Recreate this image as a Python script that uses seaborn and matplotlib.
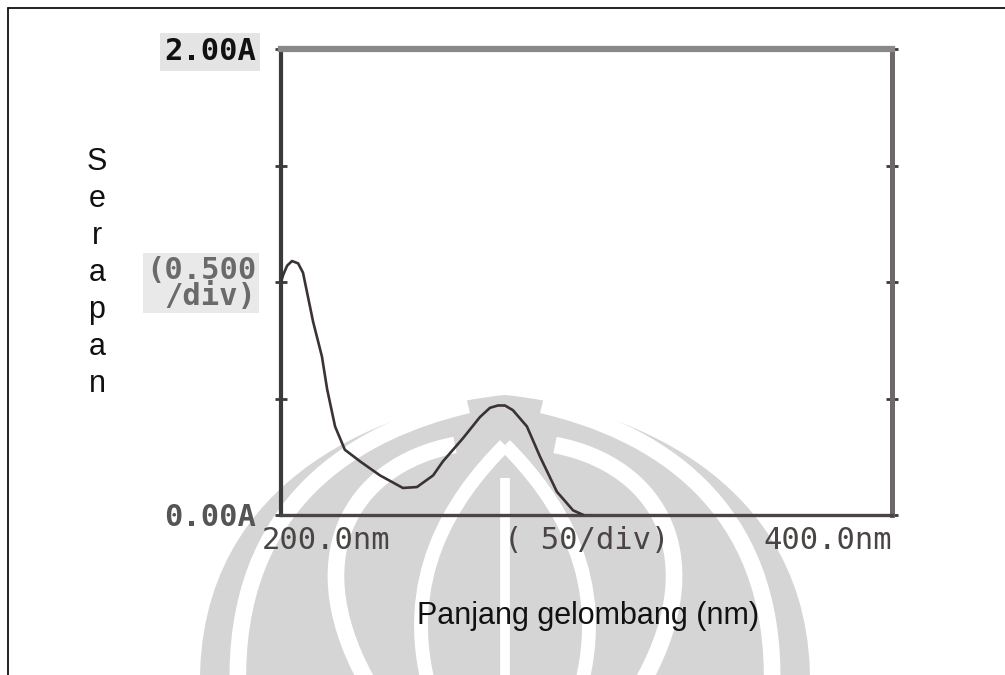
import numpy as np
import matplotlib
matplotlib.use("Agg")
import matplotlib.pyplot as plt
from matplotlib.path import Path
from matplotlib.patches import PathPatch
from matplotlib.transforms import ScaledTranslation
import seaborn as sns

# UV-Vis absorption spectrum (wavelength in nm, absorbance in A)
wavelength = [200.0, 200.7, 202.0, 203.6, 205.6, 207.2, 210.5, 213.4, 215.1,
              217.7, 220.9, 225.9, 232.4, 239.9, 244.5, 249.8, 253.0, 259.6,
              265.1, 268.4, 271.0, 273.3, 275.9, 280.5, 284.8, 290.3, 295.6, 299.0]
absorbance = [1.00, 1.03, 1.07, 1.09, 1.08, 1.04, 0.83, 0.68, 0.54,
              0.38, 0.28, 0.23, 0.17, 0.116, 0.12, 0.17, 0.23, 0.33,
              0.42, 0.46, 0.47, 0.47, 0.45, 0.38, 0.25, 0.10, 0.02, 0.0]

x_ticks = [200, 250, 300, 350, 400]
x_tick_labels = ["200.0nm", "", "( 50/div)", "", "400.0nm"]
y_ticks = [0.0, 0.5, 1.0, 1.5, 2.0]
y_tick_labels = ["0.00A", "", "(0.500\n/div)", "", "2.00A"]

x_label = "Panjang gelombang (nm)"
y_label = "Serapan"

sns.set_theme(style="white")
plt.rcParams["font.family"] = ["Liberation Sans", "DejaVu Sans"]

W, H = 1005, 675
fig = plt.figure(figsize=(W / 100, H / 100), dpi=100)
fig.patch.set_facecolor("white")

# Background layer in pixel coordinates: page frame and watermark emblem
bg = fig.add_axes([0, 0, 1, 1], zorder=0)
bg.set_xlim(0, W)
bg.set_ylim(H, 0)
bg.axis("off")

grey = "#d5d5d5"
cx = 505

# emblem: grey dome
dome_verts = [(200, 690), (195, 470), (400, 405), (cx, 395),
              (610, 405), (815, 470), (810, 690), (200, 690)]
dome_codes = [Path.MOVETO, Path.CURVE4, Path.CURVE4, Path.CURVE4,
              Path.CURVE4, Path.CURVE4, Path.CURVE4, Path.CLOSEPOLY]
bg.add_patch(PathPatch(Path(dome_verts, dome_codes), facecolor=grey,
                       edgecolor="none", zorder=1))


def white_stroke(pts, lw):
    codes = [Path.MOVETO] + [Path.CURVE4] * (len(pts) - 1)
    bg.add_patch(PathPatch(Path(pts, codes), facecolor="none",
                           edgecolor="white", lw=lw, capstyle="butt", zorder=2))


# outer petal separators
white_stroke([(238, 690), (232, 500), (360, 430), (468, 405)], 12)
white_stroke([(772, 690), (778, 500), (650, 430), (542, 405)], 12)
# inner petal separators
white_stroke([(372, 690), (295, 560), (350, 465), (455, 445)], 12)
white_stroke([(638, 690), (715, 560), (660, 465), (555, 445)], 12)
# central flame outline and split
white_stroke([(430, 690), (400, 580), (450, 500), (cx, 445)], 10)
white_stroke([(580, 690), (610, 580), (560, 500), (cx, 445)], 10)
white_stroke([(cx, 690), (cx, 600), (cx, 540), (cx, 478)], 7)

# page frame (left and top edges)
bg.plot([8, 8], [8, H + 5], color="#111111", lw=1.3, zorder=3)
bg.plot([8, W + 5], [8, 8], color="#111111", lw=1.3, zorder=3)

# Spectrum panel
ax_left, ax_right = 281, 892
ax_top, ax_bottom = 49, 515
ax = fig.add_axes([ax_left / W, 1 - ax_bottom / H,
                   (ax_right - ax_left) / W, (ax_bottom - ax_top) / H], zorder=2)
ax.set_facecolor("none")

sns.lineplot(x=wavelength, y=absorbance, ax=ax, color="#3b3234",
             lw=1.9, sort=False, zorder=5)

ax.set_xlim(200, 400)
ax.set_ylim(0, 2.0)

for side, col, lw in [("left", "#3a3a3a", 3.0), ("bottom", "#4a4444", 2.4),
                      ("right", "#6e6868", 3.6), ("top", "#8a8888", 4.5)]:
    ax.spines[side].set_visible(True)
    ax.spines[side].set_color(col)
    ax.spines[side].set_linewidth(lw)

mono = ["DejaVu Sans Mono"]
ax.set_xticks(x_ticks)
ax.set_xticklabels(x_tick_labels, family=mono, fontsize=22, color="#4a4444")
ax.set_yticks(y_ticks)
ax.set_yticklabels(y_tick_labels, family=mono, fontsize=22, color="#4a4a4a",
                   fontweight="bold")
ax.tick_params(axis="x", direction="inout", length=8, width=2,
               color="#4a4444", pad=4)
ax.tick_params(axis="y", direction="inout", length=8, width=2,
               color="#3a3a3a", pad=14, left=True, right=True)

xt = ax.get_xticklabels()
xt[0].set_horizontalalignment("left")
xt[0].set_transform(xt[0].get_transform()
                    + ScaledTranslation(-0.19, 0, fig.dpi_scale_trans))
xt[-1].set_horizontalalignment("right")

yt = ax.get_yticklabels()
yt[-1].set_color("#111111")
yt[-1].set_bbox(dict(facecolor="#e4e4e4", edgecolor="none", pad=3))
yt[2].set_color("#6a6a6a")
yt[2].set_linespacing(0.85)
yt[2].set_bbox(dict(facecolor="#e9e9e9", edgecolor="none", pad=2))
yt[0].set_color("#555555")

ax.set_xlabel(x_label, fontsize=22, color="#111111")
ax.xaxis.set_label_coords((588 - ax_left) / (ax_right - ax_left),
                          (ax_bottom - 601) / (ax_bottom - ax_top))
ax.set_ylabel("\n".join(y_label), fontsize=22, color="#111111",
              rotation=0, linespacing=1.3, va="center", ha="center")
ax.yaxis.set_label_coords((97 - ax_left) / (ax_right - ax_left),
                          (ax_bottom - 273) / (ax_bottom - ax_top))

fig.savefig("out.png", dpi=100, facecolor="white")
